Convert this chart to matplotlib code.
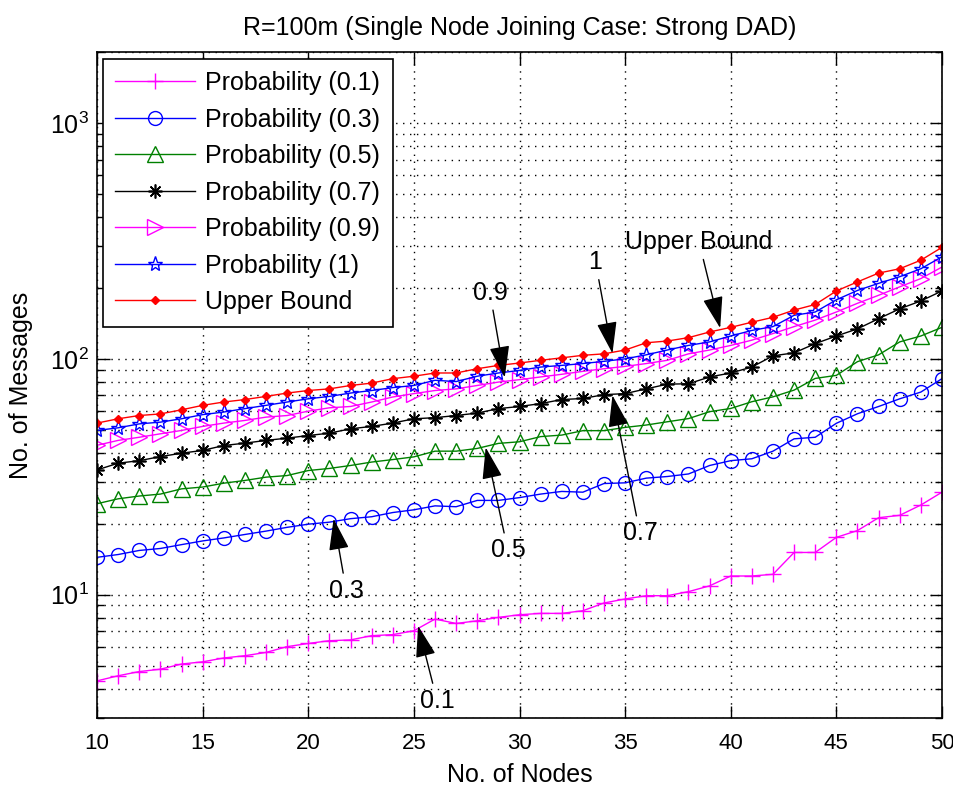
import numpy as np
import matplotlib
matplotlib.use("Agg")
import matplotlib.pyplot as plt
from matplotlib.ticker import LogLocator, NullFormatter, FixedLocator

plt.rcParams['font.family'] = ['Liberation Sans', 'DejaVu Sans']
plt.rcParams['mathtext.default'] = 'regular'

nodes = list(range(10, 51))

p01 = [4.31, 4.53, 4.72, 4.83, 5.08, 5.19, 5.39, 5.51, 5.69, 6.02,
       6.21, 6.38, 6.43, 6.70, 6.77, 7.03, 7.88, 7.55, 7.75, 8.01,
       8.22, 8.33, 8.33, 8.55, 9.22, 9.59, 9.90, 9.90, 10.3, 10.9,
       12.0, 12.0, 12.2, 15.1, 15.1, 17.5, 18.7, 21.2, 21.7, 24.0, 27.2]
p03 = [14.4, 14.8, 15.4, 15.7, 16.3, 16.9, 17.4, 18.0, 18.6, 19.3,
       19.9, 20.3, 21.0, 21.4, 22.3, 22.9, 23.8, 23.6, 25.1, 25.1,
       25.8, 26.7, 27.4, 27.2, 29.6, 29.8, 31.2, 31.7, 32.5, 35.3,
       37.0, 37.7, 40.6, 45.8, 46.5, 53.3, 58.5, 62.8, 67.7, 72.3, 82.4]
p05 = [24.3, 25.5, 26.2, 26.7, 28.1, 28.6, 29.7, 30.5, 31.5, 32.0,
       33.6, 34.3, 35.3, 36.5, 37.4, 38.4, 40.6, 40.6, 41.7, 43.8,
       44.5, 46.8, 47.5, 49.6, 49.6, 51.2, 52.4, 54.1, 55.8, 59.7,
       61.6, 65.8, 69.0, 73.7, 82.6, 85.1, 97.3, 104, 118, 125, 136]
p07 = [33.8, 36.1, 37.0, 38.5, 39.8, 40.9, 42.9, 43.9, 45.1, 46.1,
       47.3, 48.4, 50.5, 51.7, 53.4, 55.7, 56.3, 57.5, 58.9, 61.5,
       62.8, 64.6, 67.2, 67.9, 70.5, 71.2, 74.6, 78.1, 78.4, 83.8,
       87.1, 92.3, 103, 106, 116, 125, 134, 148, 163, 176, 194]
p09 = [43.0, 45.1, 46.5, 48.1, 49.7, 51.7, 53.4, 54.8, 56.6, 57.5,
       60.0, 62.0, 62.8, 65.6, 68.9, 71.2, 73.4, 74.6, 77.1, 79.7,
       81.6, 83.8, 86.0, 88.5, 90.8, 92.9, 95.5, 98.6, 105, 109,
       114, 120, 128, 137, 146, 158, 172, 186, 202, 219, 245]
p10 = [49.7, 51.0, 53.0, 53.9, 55.7, 58.0, 59.5, 61.5, 63.5, 65.6,
       67.7, 69.3, 71.6, 73.4, 75.5, 77.1, 81.1, 80.1, 84.4, 87.1,
       89.3, 92.3, 93.8, 95.5, 97.6, 100, 104, 109, 114, 118,
       125, 132, 137, 153, 158, 178, 195, 209, 223, 241, 271]
upper = [53.4, 55.7, 57.5, 58.4, 60.8, 63.5, 65.6, 67.2, 69.3, 71.6,
         73.4, 74.6, 77.1, 78.9, 82.4, 84.4, 87.1, 87.1, 90.8, 93.8,
         96.0, 98.6, 101, 103.5, 105, 109, 117, 119, 123, 130,
         136, 143, 150, 161, 170, 194, 212, 231, 241, 262, 297]

labels = ['Probability (0.1)', 'Probability (0.3)', 'Probability (0.5)',
          'Probability (0.7)', 'Probability (0.9)', 'Probability (1)',
          'Upper Bound']

# text, arrow tip (x, y), text centre (x, y)
notes = [
    ('0.1', (25.2, 7.38), (26.1, 3.55)),
    ('0.3', (21.2, 21.0), (21.8, 10.4)),
    ('0.5', (28.4, 42.1), (29.45, 15.4)),
    ('0.7', (34.4, 70.0), (35.7, 18.2)),
    ('0.9', (29.3, 83.4), (28.6, 191)),
    ('1', (34.4, 105.5), (33.6, 257)),
    ('Upper Bound', (39.5, 135), (38.5, 313)),
]

magenta = (1, 0, 1)
blue = (0, 0, 1)
green = (0, 0.5, 0)

fig = plt.figure(figsize=(9.54, 7.87), dpi=100)
ax = fig.add_axes([0.1017, 0.0877, 0.8857, 0.8462])

lw = 1.0
ax.plot(nodes, p01, color=magenta, marker='+', ms=11, mew=1.0, lw=lw, label=labels[0])
ax.plot(nodes, p03, color=blue, marker='o', ms=10, mfc='none', mew=1.0, lw=lw, label=labels[1])
ax.plot(nodes, p05, color=green, marker='^', ms=11, mfc='none', mew=1.0, lw=lw, label=labels[2])
ax.plot(nodes, p07, color='black', marker=(8, 2, 0), ms=10, mew=1.2, lw=lw, label=labels[3])
ax.plot(nodes, p09, color=magenta, marker='>', ms=11, mfc='none', mew=1.0, lw=lw, label=labels[4])
ax.plot(nodes, p10, color=blue, marker='*', ms=11, mfc='none', mew=1.0, lw=lw, label=labels[5])
ax.plot(nodes, upper, color='red', marker='D', ms=4, lw=lw, label=labels[6])

ax.set_yscale('log')
ax.set_xlim(10, 50)
ax.set_ylim(3, 2000)
ax.xaxis.set_major_locator(FixedLocator(range(10, 51, 5)))
ax.yaxis.set_major_locator(LogLocator(base=10))
ax.yaxis.set_minor_locator(LogLocator(base=10, subs=np.arange(2, 10)))
ax.yaxis.set_minor_formatter(NullFormatter())

dots = (0, (1, 4))
ax.grid(True, which='major', axis='both', color='black', lw=1.0, linestyle=dots)
ax.grid(True, which='minor', axis='y', color='black', lw=1.0, linestyle=dots)

ax.tick_params(which='both', direction='in', top=True, right=True, width=1.0)
ax.tick_params(axis='x', labelsize=16, pad=11)
ax.tick_params(axis='y', labelsize=18, pad=6)
ax.tick_params(which='major', length=9)
ax.tick_params(which='minor', length=5)
for s in ax.spines.values():
    s.set_linewidth(1.2)

ax.set_title('R=100m (Single Node Joining Case: Strong DAD)', fontsize=18, pad=12)
ax.set_xlabel('No. of Nodes', fontsize=18, labelpad=6)
ax.set_ylabel('No. of Messages', fontsize=18, labelpad=12)

for txt, tip, pos in notes:
    ax.annotate(txt, xy=tip, xytext=pos, fontsize=18, ha='center', va='center',
                arrowprops=dict(arrowstyle='-|>,head_length=1.1,head_width=0.35',
                                color='black', lw=1.0, shrinkA=2, shrinkB=0))

leg = ax.legend(loc='upper left', bbox_to_anchor=(0.007, 0.99), borderaxespad=0,
                fontsize=18, fancybox=False, framealpha=1, edgecolor='black',
                handlelength=3.2, labelspacing=0.5, borderpad=0.5, handletextpad=0.4)
leg.get_frame().set_linewidth(1.2)

fig.savefig('out.png', dpi=100)
